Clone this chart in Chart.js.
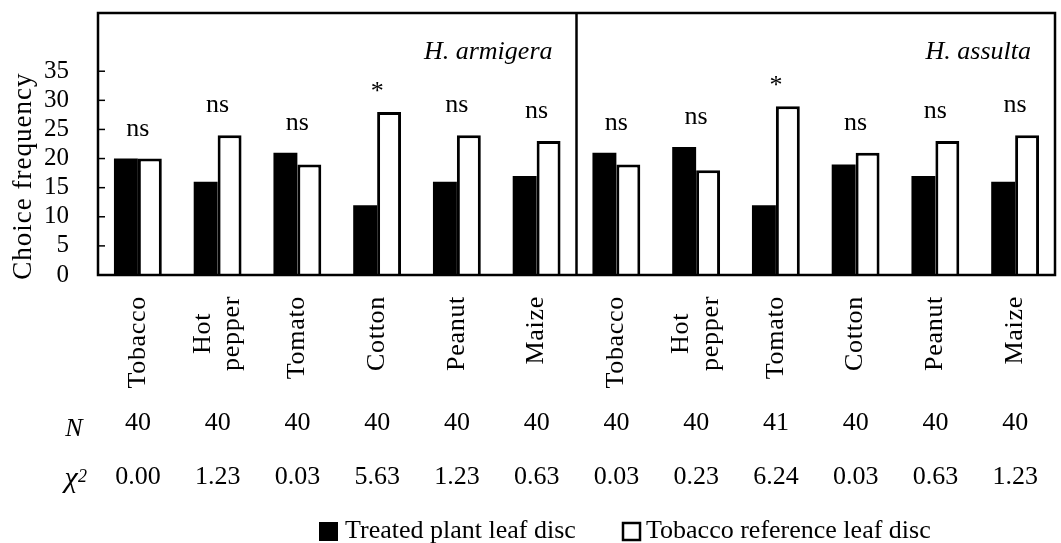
<!DOCTYPE html>
<html>
<head>
<meta charset="utf-8">
<script src="https://cdn.jsdelivr.net/npm/chart.js@4"></script>
<style>
  body { margin: 0; background: #fff; }
</style>
</head>
<body>
<canvas id="chart" width="1061" height="543"></canvas>
<script>
// 左6つが H. armigera、右6つが H. assulta
const crops = ["Tobacco", ["Hot", "pepper"], "Tomato", "Cotton", "Peanut", "Maize",
               "Tobacco", ["Hot", "pepper"], "Tomato", "Cotton", "Peanut", "Maize"];
const species = ["H. armigera", "H. assulta"];
const treated = [20, 16, 21, 12, 16, 17, 21, 22, 12, 19, 17, 16];
const reference = [20, 24, 19, 28, 24, 23, 19, 18, 29, 21, 23, 24];
const sig = ["ns", "ns", "ns", "*", "ns", "ns", "ns", "ns", "*", "ns", "ns", "ns"];
const nValues = ["40", "40", "40", "40", "40", "40", "40", "40", "41", "40", "40", "40"];
const chiValues = ["0.00", "1.23", "0.03", "5.63", "1.23", "0.63",
                   "0.03", "0.23", "6.24", "0.03", "0.63", "1.23"];
const yTicks = [0, 5, 10, 15, 20, 25, 30, 35];
const seriesNames = ["Treated plant leaf disc", "Tobacco reference leaf disc"];

const FONT = '"Liberation Serif", "Times New Roman", serif';

// 枠・ラベル・表などを追加で描く
const extras = {
  id: "extras",
  afterDraw(chart) {
    const { ctx, chartArea: a, scales: { x, y } } = chart;
    ctx.save();
    ctx.fillStyle = "#000";
    ctx.strokeStyle = "#000";

    // 外枠と仕切り線
    ctx.lineWidth = 2.5;
    ctx.strokeRect(a.left, a.top, a.right - a.left, a.bottom - a.top);
    const mid = (x.getPixelForValue(5) + x.getPixelForValue(6)) / 2;
    ctx.beginPath();
    ctx.moveTo(mid, a.top);
    ctx.lineTo(mid, a.bottom);
    ctx.stroke();

    // 内向きの目盛り
    ctx.lineWidth = 1.5;
    yTicks.forEach(v => {
      if (v === 0) return;
      const py = y.getPixelForValue(v);
      ctx.beginPath();
      ctx.moveTo(a.left, py);
      ctx.lineTo(a.left + 7, py);
      ctx.stroke();
    });

    // 縦軸タイトル
    ctx.save();
    ctx.font = `27px ${FONT}`;
    ctx.letterSpacing = "1px";
    ctx.textAlign = "center";
    ctx.textBaseline = "middle";
    ctx.translate(24, (y.getPixelForValue(0) + y.getPixelForValue(35)) / 2 + 3);
    ctx.rotate(-Math.PI / 2);
    ctx.fillText("Choice frequency", 0, 0);
    ctx.restore();

    // 種名
    ctx.font = `italic 26px ${FONT}`;
    ctx.textAlign = "right";
    ctx.textBaseline = "alphabetic";
    ctx.fillText(species[0], mid - 24, 59);
    ctx.fillText(species[1], a.right - 24, 59);

    // 有意差ラベル
    ctx.font = `26px ${FONT}`;
    ctx.textAlign = "center";
    sig.forEach((s, i) => {
      const top = y.getPixelForValue(Math.max(treated[i], reference[i]));
      ctx.fillText(s, x.getPixelForValue(i), s === "*" ? top - 13 : top - 23);
    });

    // 横軸ラベル（縦書き、複数行は中央揃え）
    const lh = 29.3;
    ctx.save();
    ctx.letterSpacing = "0.7px";
    crops.forEach((c, i) => {
      const lines = Array.isArray(c) ? c : [c];
      const maxW = Math.max(...lines.map(t => ctx.measureText(t).width));
      ctx.save();
      ctx.translate(x.getPixelForValue(i), a.bottom + 21);
      ctx.rotate(-Math.PI / 2);
      ctx.textAlign = "center";
      ctx.textBaseline = "middle";
      lines.forEach((t, j) => {
        ctx.fillText(t, -maxW / 2, (j - (lines.length - 1) / 2) * lh);
      });
      ctx.restore();
    });
    ctx.restore();

    // N と χ² の行
    ctx.textBaseline = "middle";
    ctx.textAlign = "center";
    nValues.forEach((v, i) => ctx.fillText(v, x.getPixelForValue(i), 423));
    chiValues.forEach((v, i) => ctx.fillText(v, x.getPixelForValue(i), 477));
    ctx.textBaseline = "alphabetic";
    ctx.font = `italic 26px ${FONT}`;
    ctx.fillText("N", 74, 436);
    ctx.font = `italic 30px ${FONT}`;
    ctx.fillText("\u03c7", 71, 487);
    ctx.font = `italic 18px ${FONT}`;
    ctx.textAlign = "left";
    ctx.fillText("2", 78, 482);

    // 凡例
    ctx.font = `26px ${FONT}`;
    ctx.textAlign = "left";
    ctx.textBaseline = "middle";
    ctx.fillRect(319, 522, 19, 19);
    ctx.fillText(seriesNames[0], 345, 531);
    ctx.lineWidth = 2.5;
    ctx.fillStyle = "#fff";
    ctx.fillRect(623, 523, 17, 17);
    ctx.strokeRect(623, 523, 17, 17);
    ctx.fillStyle = "#000";
    ctx.fillText(seriesNames[1], 646, 531);

    ctx.restore();
  }
};

new Chart(document.getElementById("chart"), {
  type: "bar",
  data: {
    labels: crops,
    datasets: [{
      label: seriesNames[0],
      data: treated,
      backgroundColor: "#000",
      borderColor: "#000",
      borderWidth: 0
    }, {
      label: seriesNames[1],
      data: reference,
      backgroundColor: "#fff",
      borderColor: "#000",
      borderWidth: 3
    }]
  },
  options: {
    responsive: false,
    animation: false,
    devicePixelRatio: 1,
    events: [],
    layout: { padding: { top: 13, right: 6, left: 0, bottom: 0 } },
    datasets: { bar: { categoryPercentage: 0.6, barPercentage: 1.0 } },
    plugins: { legend: { display: false }, tooltip: { enabled: false } },
    scales: {
      x: {
        grid: { display: false },
        border: { display: false },
        ticks: { display: false },
        afterFit: s => { s.height = 268; }
      },
      y: {
        min: 0,
        max: 45,
        grid: { display: false },
        border: { display: false },
        afterBuildTicks: s => { s.ticks = yTicks.map(v => ({ value: v })); },
        ticks: { color: "#000", padding: 21, autoSkip: false, font: { family: FONT, size: 25 } },
        afterFit: s => { s.width = 98; s.paddingTop = 0; s.paddingBottom = 0; }
      }
    }
  },
  plugins: [extras]
});
</script>
</body>
</html>
